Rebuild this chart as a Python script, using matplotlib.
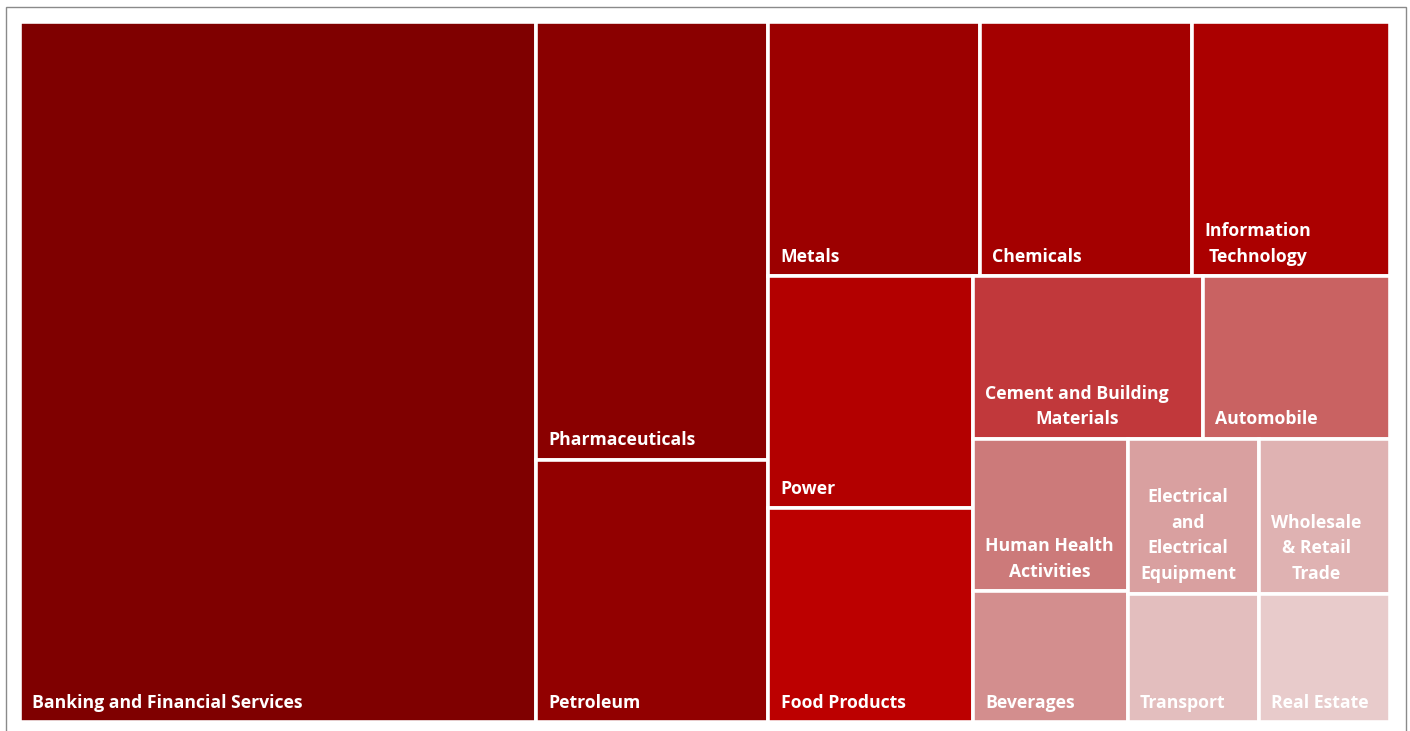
import matplotlib
matplotlib.use("Agg")
import matplotlib.pyplot as plt
from matplotlib.patches import Rectangle

# Sector shares (% of total) and their tile colours
sectors = [
    "Banking and Financial Services", "Pharmaceuticals", "Petroleum",
    "Metals", "Chemicals", "Information Technology",
    "Power", "Food Products", "Cement and Building Materials", "Automobile",
    "Human Health Activities", "Beverages",
    "Electrical and Electrical Equipment", "Transport",
    "Wholesale & Retail Trade", "Real Estate",
]
tile_labels = [
    "Banking and Financial Services", "Pharmaceuticals", "Petroleum",
    "Metals", "Chemicals", "Information\nTechnology",
    "Power", "Food Products", "Cement and Building\nMaterials", "Automobile",
    "Human Health\nActivities", "Beverages",
    "Electrical\nand\nElectrical\nEquipment", "Transport",
    "Wholesale\n& Retail\nTrade", "Real Estate",
]
shares = [37.70, 10.59, 6.35, 5.61, 5.63, 5.25, 4.94, 4.56,
          3.89, 3.17, 2.46, 2.12, 2.12, 1.76, 2.11, 1.75]
colors = [
    "#7f0000", "#8a0000", "#920000", "#9c0000", "#a40000", "#ab0000",
    "#b30000", "#bc0000", "#c1383b", "#c96262", "#cc7a7a", "#d38e8e",
    "#d9a0a0", "#e3bebe", "#dfb2b2", "#e8cbcb",
]

# Nested slicing of the tiles: "row" places children left to right,
# "col" stacks them top to bottom; leaves are indices into the lists above.
tree = ("row", [
    0,
    ("col", [1, 2]),
    ("col", [
        ("row", [3, 4, 5]),
        ("row", [
            ("col", [6, 7]),
            ("col", [
                ("row", [8, 9]),
                ("row", [("col", [10, 11]), ("col", [12, 13]), ("col", [14, 15])]),
            ]),
        ]),
    ]),
])


def node_total(node):
    if isinstance(node, int):
        return shares[node]
    return sum(node_total(c) for c in node[1])


def lay_out(node, x, y, w, h, out):
    if isinstance(node, int):
        out[node] = (x, y, w, h)
        return
    kind, children = node
    tot = node_total(node)
    pos = 0.0
    for c in children:
        frac = node_total(c) / tot
        if kind == "row":
            lay_out(c, x + pos * w, y, frac * w, h, out)
        else:
            lay_out(c, x, y + pos * h, w, frac * h, out)
        pos += frac


FIG_W, FIG_H = 1410, 731
fig = plt.figure(figsize=(FIG_W / 100, FIG_H / 100), dpi=100)
fig.patch.set_facecolor("white")

# plotting region in pixels
left, top, right, bottom = 20, 22, 1390, 722
W, H = right - left, bottom - top
ax = fig.add_axes([left / FIG_W, (FIG_H - bottom) / FIG_H, W / FIG_W, H / FIG_H])
ax.set_xlim(0, W)
ax.set_ylim(H, 0)
ax.axis("off")

rects = {}
lay_out(tree, 0, 0, W, H, rects)

gap_px = 3.6
for i, (x, y, w, h) in rects.items():
    ax.add_patch(Rectangle((x, y), w, h, facecolor=colors[i],
                           edgecolor="white", linewidth=gap_px * 72 / 100,
                           clip_on=False))
    ax.text(x + gap_px / 2 + 10.3, y + h - gap_px / 2 - 8.5, tile_labels[i],
            ha="left", va="bottom", multialignment="center",
            color="white", fontsize=12.7, fontweight="bold",
            family="Open Sans", linespacing=1.56)

# thin grey frame around the chart
fig.add_artist(Rectangle((5.5 / FIG_W, -0.05), (1406 - 5.5) / FIG_W,
                         1.05 - 7.5 / FIG_H, transform=fig.transFigure,
                         fill=False, edgecolor="#8a8a8a", linewidth=1.0))

fig.savefig("out.png", dpi=100, facecolor="white")
